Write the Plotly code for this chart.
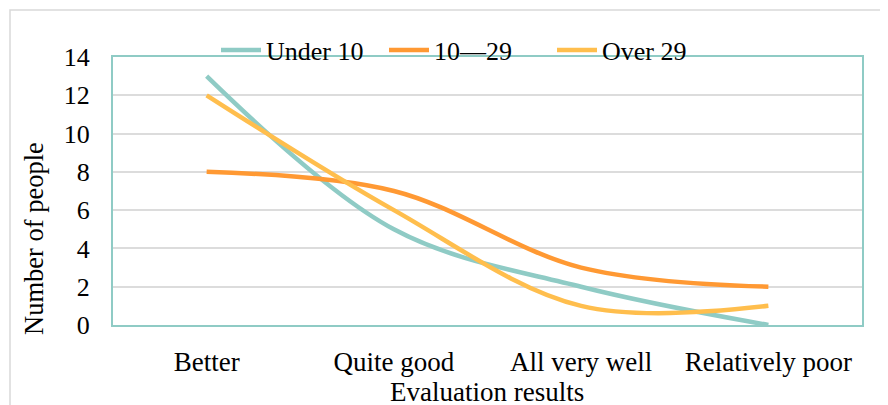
import plotly.graph_objects as go

categories = ["Better", "Quite good", "All very well", "Relatively poor"]
under_10 = [13, 5, 2, 0]
age_10_29 = [8, 7, 3, 2]
over_29 = [12, 6, 1, 1]
series_names = ["Under 10", "10\u201429", "Over 29"]
y_ticks = [0, 2, 4, 6, 8, 10, 12, 14]

colors = ["#8FCBC5", "#FF9933", "#FFBE4D"]
FONT = "Liberation Serif, Times New Roman, serif"

# page body has an 8px margin; plot area spans page x 113..862, y 57..325
W, H = 880, 397
L, T, R, B = 105, 49, 26, 80
PW, PH = W - L - R, H - T - B


def px_x(page_x):
    return (page_x - 8 - L) / PW


def px_y(page_y):
    return (H - B - (page_y - 8)) / PH


fig = go.Figure()
for name, vals, col in zip(series_names, [under_10, age_10_29, over_29], colors):
    fig.add_trace(go.Scatter(
        x=categories, y=vals, name=name, mode="lines",
        line=dict(color=col, width=4.5, shape="spline", smoothing=1.0),
    ))

fig.update_layout(
    width=W, height=H,
    margin=dict(l=L, r=R, t=T, b=B, autoexpand=False),
    paper_bgcolor="white", plot_bgcolor="white",
    font=dict(family=FONT, size=26, color="black"),
    showlegend=True,
    legend=dict(orientation="h", x=px_x(468), xanchor="center", y=px_y(50), yanchor="middle",
                font=dict(family=FONT, size=26, color="black"), bgcolor="rgba(0,0,0,0)",
                itemwidth=40, entrywidth=113, tracegroupgap=0),
    xaxis=dict(
        type="category", range=[-0.5, 3.5],
        showgrid=False, showline=True, linecolor="#8FCBC5", linewidth=2, mirror=True,
        ticks="", ticklabelstandoff=12, tickfont=dict(family=FONT, size=27, color="black"),
    ),
    yaxis=dict(
        range=[0, 14], tickvals=y_ticks, showgrid=True, gridcolor="#DCDCDC", gridwidth=1.5,
        showline=True, linecolor="#8FCBC5", linewidth=2, mirror=True, zeroline=False,
        ticks="", ticklabelstandoff=16, tickfont=dict(family=FONT, size=26, color="black"),
    ),
    annotations=[
        dict(text="Evaluation results", xref="paper", yref="paper",
             x=px_x(487), y=px_y(392), xanchor="center", yanchor="middle",
             showarrow=False, font=dict(family=FONT, size=27, color="black")),
        dict(text="Number of people", xref="paper", yref="paper", textangle=-90,
             x=px_x(34), y=px_y(239), xanchor="center", yanchor="middle",
             showarrow=False, font=dict(family=FONT, size=26.5, color="black")),
    ],
    shapes=[dict(type="rect", xref="paper", yref="paper",
                 x0=px_x(10), x1=px_x(900), y0=px_y(420), y1=px_y(10),
                 line=dict(color="#D9D9D9", width=1.5), fillcolor="rgba(0,0,0,0)", layer="below")],
)

fig.write_html("out.html")
